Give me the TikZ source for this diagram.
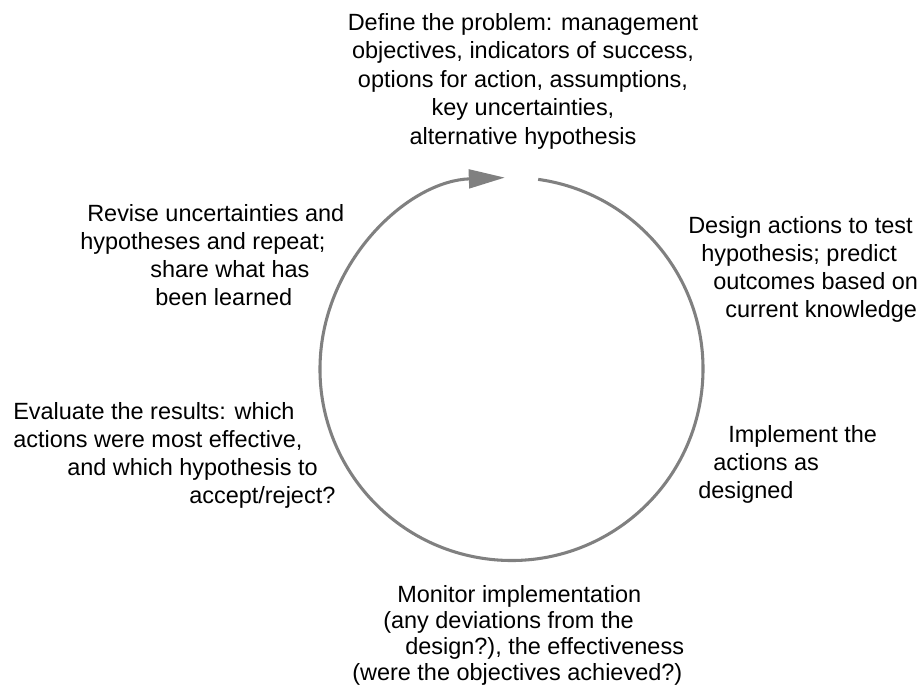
\documentclass[tikz,border=0pt]{standalone}
\usepackage{fontspec}
\setmainfont{Liberation Sans}
\usepackage{tikz}
\usetikzlibrary{arrows.meta}
\definecolor{cyclegray}{RGB}{128,128,128}

\begin{document}
\begin{tikzpicture}[x=0.75pt,y=0.75pt,yscale=-1,
    steptext/.style={anchor=north west,inner sep=0pt,align=left,text=black,
        font=\fontsize{17.6}{21}\selectfont},
    cyclearc/.style={draw=cyclegray,line width=2.3pt,
        -{Triangle[length=27pt,width=14pt]}}]
        %set diagram size
        \useasboundingbox (0,0) rectangle (924,695);

        %Shape: Arc [id:cycle]
        \coordinate (c) at (511.5,369);
        \draw [cyclearc] ([shift={(-82:191.5)}]c) arc [start angle=-82,end angle=268,radius=191.5];

        % Text Node
        \node (define) [steptext,anchor=north,align=center,font=\fontsize{17.6}{21.4}\selectfont] at (523,13)
            {Define the problem: management\\objectives, indicators of success,\\options for action, assumptions,\\key uncertainties,\\alternative hypothesis};
        % Text Node
        \node (design) [steptext] at (688,216)
            {Design actions to test\\\hspace*{9.75pt}hypothesis; predict\\\hspace*{18.75pt}outcomes based on\\\hspace*{27.75pt}current knowledge};
        % Text Node
        \node (implement) [steptext] at (698,425)
            {\hspace*{22.5pt}Implement the\\\hspace*{11.25pt}actions as\\designed};
        % Text Node
        \node (monitor) [steptext,font=\fontsize{17.6}{19.5}\selectfont] at (352,585)
            {\hspace*{33.75pt}Monitor implementation\\\hspace*{23.25pt}(any deviations from the\\\hspace*{39.75pt}design?), the effectiveness\\(were the objectives achieved?)};
        % Text Node
        \node (evaluate) [steptext] at (13,402)
            {Evaluate the results: which\\actions were most effective,\\\hspace*{40.5pt}and which hypothesis to\\\hspace*{132pt}accept/reject?};
        % Text Node
        \node (revise) [steptext] at (80,204)
            {\hspace*{5.25pt}Revise uncertainties and\\hypotheses and repeat;\\\hspace*{52.5pt}share what has\\\hspace*{56.25pt}been learned};

\end{tikzpicture}
\end{document}
